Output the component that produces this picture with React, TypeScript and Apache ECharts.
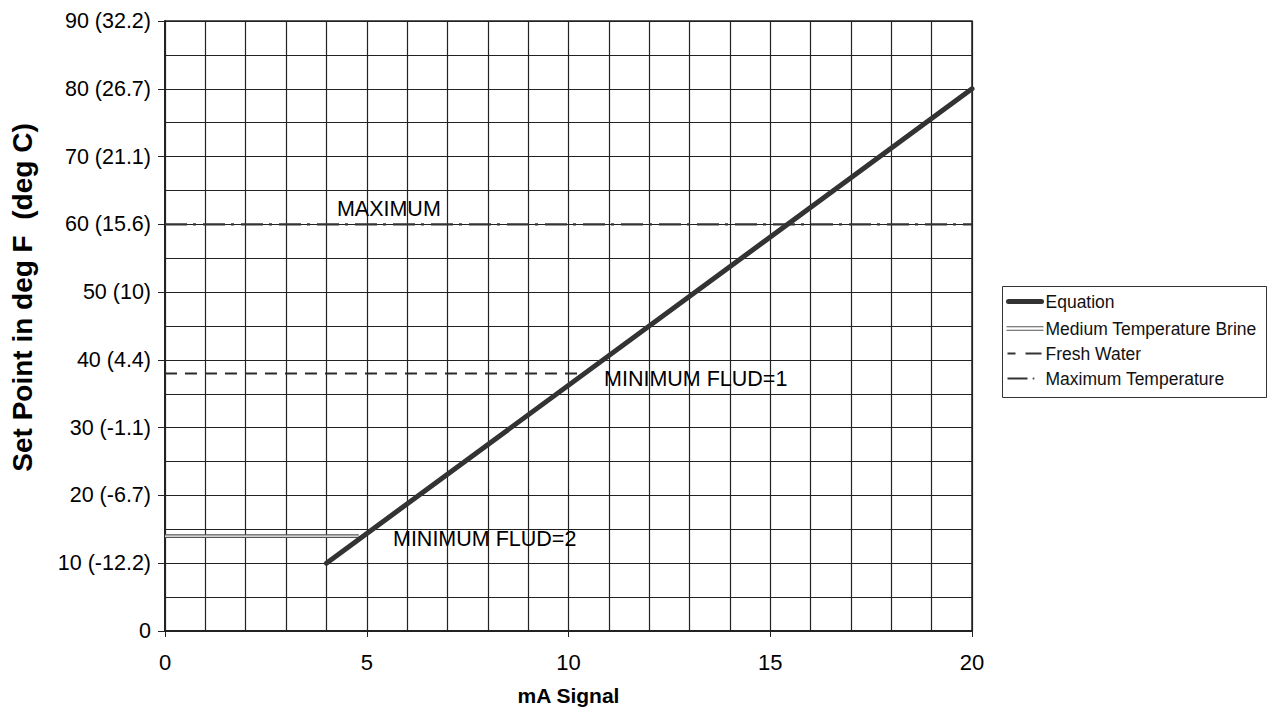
import React, { useEffect, useRef } from "react";
import * as echarts from "echarts";

// mA signal range and set point range (deg F)
const xRange = [0, 20];
const yRange = [0, 90];

// Y tick labels: deg F with deg C in brackets
const yTickLabels = [
  "0",
  "10 (-12.2)",
  "20 (-6.7)",
  "30 (-1.1)",
  "40 (4.4)",
  "50 (10)",
  "60 (15.6)",
  "70 (21.1)",
  "80 (26.7)",
  "90 (32.2)",
];

// Set point equation: mA -> deg F
const equationPoints = [
  [4, 10],
  [20, 80],
];
// Minimum for medium temperature brine (FLUD=2)
const brinePoints = [
  [0, 14],
  [4.8, 14],
];
// Minimum for fresh water (FLUD=1)
const freshWaterPoints = [
  [0, 38],
  [10.3, 38],
];
// Maximum set point
const maxTempPoints = [
  [0, 60],
  [20, 60],
];

// Annotation texts anchored in data coordinates (left, middle)
const annotations = [
  { text: "MAXIMUM", x: 4.26, y: 62.3 },
  { text: "MINIMUM FLUD=1", x: 10.88, y: 37.2 },
  { text: "MINIMUM FLUD=2", x: 5.65, y: 13.6 },
];

const legendNames = [
  "Equation",
  "Medium Temperature Brine",
  "Fresh Water",
  "Maximum Temperature",
];

const FONT = "'Liberation Sans', Arial, Helvetica, sans-serif";
const INK = "#000";
const GRID = "#222";

function buildLegend() {
  const rowY = [15, 42, 67, 92];
  const children: any[] = [
    {
      type: "rect",
      shape: { x: 0, y: 0, width: 264, height: 111 },
      style: { fill: "#fff", stroke: "#333", lineWidth: 1 },
    },
  ];
  // Equation: heavy solid line
  children.push({
    type: "line",
    shape: { x1: 6, y1: rowY[0], x2: 39, y2: rowY[0] },
    style: { stroke: "#333", lineWidth: 5, lineCap: "round" },
  });
  // Brine: double line
  children.push(
    {
      type: "line",
      shape: { x1: 4, y1: rowY[1] - 1.75, x2: 41, y2: rowY[1] - 1.75 },
      style: { stroke: "#555", lineWidth: 1 },
    },
    {
      type: "line",
      shape: { x1: 4, y1: rowY[1] + 1.75, x2: 41, y2: rowY[1] + 1.75 },
      style: { stroke: "#555", lineWidth: 1 },
    }
  );
  // Fresh water: dashes
  children.push(
    {
      type: "line",
      shape: { x1: 5, y1: rowY[2], x2: 13, y2: rowY[2] },
      style: { stroke: "#333", lineWidth: 2 },
    },
    {
      type: "line",
      shape: { x1: 23, y1: rowY[2], x2: 39, y2: rowY[2] },
      style: { stroke: "#333", lineWidth: 2 },
    }
  );
  // Maximum: dash-dot
  children.push(
    {
      type: "line",
      shape: { x1: 5, y1: rowY[3], x2: 25, y2: rowY[3] },
      style: { stroke: "#333", lineWidth: 2 },
    },
    {
      type: "circle",
      shape: { cx: 31, cy: rowY[3], r: 1 },
      style: { fill: "#555" },
    }
  );
  legendNames.forEach((name, i) => {
    children.push({
      type: "text",
      x: 43,
      y: rowY[i],
      style: {
        text: name,
        fontSize: 17.5,
        fontFamily: FONT,
        fill: "#111",
        verticalAlign: "middle",
        align: "left",
      },
    });
  });
  return { type: "group", left: 1002, top: 286, children };
}

export default function App() {
  const ref = useRef<HTMLDivElement>(null);

  useEffect(() => {
    if (!ref.current) return;
    const chart = echarts.init(ref.current, null, { renderer: "svg" });

    const splitStyle = { color: GRID, width: 1.2 };

    const option: any = {
      animation: false,
      backgroundColor: "#fff",
      grid: {
        left: 165,
        top: 21,
        right: 297,
        bottom: 77,
        outerBoundsMode: "none",
        containLabel: false,
        show: true,
        borderColor: GRID,
        borderWidth: 1.5,
        backgroundColor: "transparent",
      },
      xAxis: {
        type: "value",
        min: xRange[0],
        max: xRange[1],
        interval: 5,
        name: "mA Signal",
        nameLocation: "middle",
        nameGap: 54,
        nameTextStyle: {
          fontSize: 21,
          fontWeight: "bold",
          fontFamily: FONT,
          color: INK,
        },
        axisLine: { show: true, lineStyle: { color: GRID, width: 2 } },
        axisTick: { show: true, length: 6, lineStyle: { color: GRID, width: 1 } },
        axisLabel: {
          fontSize: 22,
          fontFamily: FONT,
          color: INK,
          margin: 20,
        },
        splitLine: { show: true, lineStyle: splitStyle },
        minorTick: { show: false, splitNumber: 5 },
        minorSplitLine: { show: true, lineStyle: splitStyle },
      },
      yAxis: {
        type: "value",
        min: yRange[0],
        max: yRange[1],
        interval: 10,
        name: "Set Point in deg F  (deg C)",
        nameLocation: "middle",
        nameGap: 129,
        nameTextStyle: {
          fontSize: 28,
          fontWeight: "bold",
          fontFamily: FONT,
          color: INK,
          padding: [0, 0, 0, 57],
        },
        axisLine: { show: true, lineStyle: { color: GRID, width: 2 } },
        axisTick: { show: true, length: 7, lineStyle: { color: GRID, width: 1 } },
        axisLabel: {
          fontSize: 21.5,
          fontFamily: FONT,
          color: INK,
          margin: 14,
          formatter: (v: number) => yTickLabels[Math.round(v / 10)] ?? "",
        },
        splitLine: { show: true, lineStyle: splitStyle },
        minorTick: { show: false, splitNumber: 2 },
        minorSplitLine: { show: true, lineStyle: splitStyle },
      },
      series: [
        {
          name: "Maximum Temperature",
          type: "line",
          data: maxTempPoints,
          symbol: "none",
          silent: true,
          z: 3,
          lineStyle: { color: "#333", width: 2.2, type: [22, 6, 3, 7] },
        },
        {
          name: "Fresh Water",
          type: "line",
          data: freshWaterPoints,
          symbol: "none",
          silent: true,
          z: 3,
          lineStyle: { color: "#2a2a2a", width: 2, type: [12, 8] },
        },
        {
          name: "Medium Temperature Brine",
          type: "line",
          data: brinePoints,
          symbol: "none",
          silent: true,
          z: 3,
          lineStyle: { color: "#555", width: 3.6 },
        },
        {
          // hollow centre of the double brine line
          name: "Medium Temperature Brine core",
          type: "line",
          data: brinePoints,
          symbol: "none",
          silent: true,
          z: 4,
          lineStyle: { color: "#fff", width: 1.4 },
        },
        {
          name: "Equation",
          type: "line",
          data: equationPoints,
          symbol: "none",
          silent: true,
          z: 5,
          lineStyle: { color: "#333", width: 5, cap: "round" },
        },
        {
          name: "Annotations",
          type: "scatter",
          data: annotations.map((a) => ({ value: [a.x, a.y], name: a.text })),
          symbolSize: 0,
          silent: true,
          z: 6,
          itemStyle: { opacity: 1 },
          label: {
            show: true,
            position: [0, 0],
            align: "left",
            verticalAlign: "middle",
            formatter: (p: any) => p.name,
            fontSize: 21.5,
            fontFamily: FONT,
            color: INK,
            opacity: 1,
          },
        },
      ],
      graphic: [buildLegend()],
    };

    chart.setOption(option);
    return () => chart.dispose();
  }, []);

  return (
    <div
      ref={ref}
      style={{
        width: 1269,
        height: 708,
        position: "absolute",
        left: 0,
        top: 0,
        background: "#fff",
      }}
    />
  );
}
